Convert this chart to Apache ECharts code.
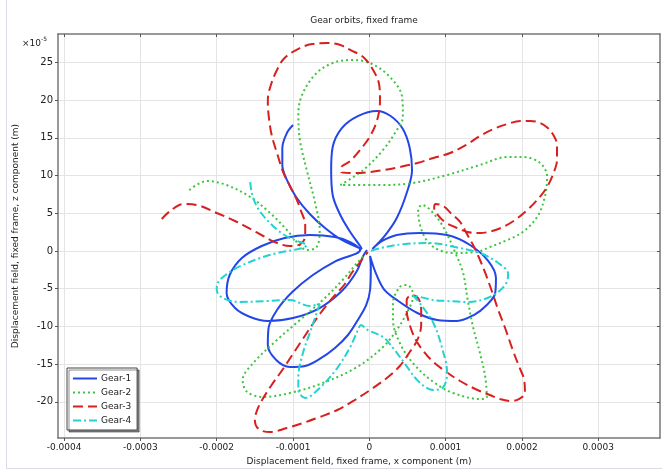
<!DOCTYPE html>
<html>
<head>
<meta charset="utf-8">
<script src="https://cdn.jsdelivr.net/npm/echarts@6/dist/echarts.min.js"></script>
<style>
html,body{margin:0;padding:0;background:#fff;}
#chart{width:662px;height:472px;}
</style>
</head>
<body>
<div id="chart"></div>
<script>
// Units: x in 1e-4 m, z in 1e-5 m
const xTicks = [-4, -3, -2, -1, 0, 1, 2, 3];
const zTicks = [-20, -15, -10, -5, 0, 5, 10, 15, 20, 25];
const seriesNames = ['Gear-1', 'Gear-2', 'Gear-3', 'Gear-4'];

const gear1 = [
[-1.00,16.71],[-1.08,15.65],[-1.14,13.66],[-1.14,11.41],[-1.08,9.42],[-0.96,7.16],[-0.78,4.91],[-0.58,3.05],[-0.36,1.46],[-0.10,0.27],
[-0.12,0.66],[-0.25,2.52],[-0.38,4.77],[-0.48,7.43],[-0.50,10.74],[-0.48,13.79],[-0.36,16.31],[-0.15,17.90],[0.10,18.57],[0.28,17.90],[0.44,16.18],[0.53,13.66],[0.56,10.74],[0.49,7.69],[0.36,4.38],[0.21,2.12],[0.04,0.27],
[0.17,1.33],[0.36,2.12],[0.66,2.39],[1.02,2.12],[1.32,0.80],[1.56,-1.33],[1.66,-3.58],[1.65,-5.57],[1.54,-7.16],[1.37,-8.49],[1.15,-9.28],[0.89,-9.15],[0.63,-8.22],[0.38,-6.63],[0.19,-5.04],[0.08,-2.79],[0.01,-0.66],
[0.02,-2.25],[0.01,-5.17],[-0.04,-7.16],[-0.15,-9.15],[-0.28,-11.14],[-0.45,-12.87],[-0.65,-14.32],[-0.84,-15.25],[-1.04,-15.39],[-1.22,-14.46],[-1.33,-12.47],[-1.32,-10.21],[-1.21,-7.83],[-1.01,-5.44],[-0.74,-3.18],[-0.44,-1.33],[-0.12,0.13],
[-0.25,1.19],[-0.45,1.86],[-0.78,2.12],[-1.11,1.72],[-1.41,0.66],[-1.67,-0.93],[-1.83,-3.18],[-1.87,-5.57],[-1.76,-7.56],[-1.56,-8.75],[-1.33,-9.28],[-1.00,-8.89],[-0.65,-7.56],[-0.36,-5.31],[-0.17,-2.79],[-0.08,-0.66],[-0.03,0.13]
];

const gear2 = [
[-0.03,-0.27],[-0.16,-1.59],[-0.35,-3.85],[-0.61,-6.50],[-0.91,-9.15],[-1.21,-11.80],[-1.52,-14.85],[-1.66,-17.11],[-1.60,-18.70],[-1.39,-19.36],[-1.04,-18.83],[-0.61,-17.51],[-0.16,-15.39],[0.18,-12.73],[0.36,-10.48],[0.49,-8.22],[0.57,-6.10],[0.56,-5.17],[0.49,-4.51],[0.40,-4.77],[0.31,-6.90],[0.31,-9.15],[0.40,-12.20],[0.57,-14.85],[0.84,-17.37],[1.10,-18.83],[1.45,-19.63],[1.54,-19.36],[1.52,-16.71],[1.45,-13.53],[1.36,-10.08],[1.29,-6.50],[1.23,-2.92],[1.14,-0.53],[0.97,3.18],[0.80,5.44],[0.69,6.10],[0.64,5.44],[0.70,2.39],[0.84,0.53],[1.10,-0.27],[1.41,-0.13],[1.58,0.53],[1.81,1.46],[2.01,2.52],[2.20,4.51],[2.30,7.16],[2.33,9.81],[2.24,11.67],[2.01,12.47],[1.81,12.47],[1.45,11.41],[1.02,10.08],[0.57,9.02],[0.14,8.75],[-0.38,8.75],[-0.08,10.74],[0.18,13.40],[0.36,16.05],[0.44,17.77],[0.43,20.42],[0.27,23.08],[0.01,24.93],[-0.25,25.33],[-0.48,24.93],[-0.69,23.61],[-0.87,20.96],[-0.93,18.30],[-0.91,14.72],[-0.82,10.74],[-0.71,6.37],[-0.65,2.79],[-0.69,0.53],[-0.82,0.13],[-0.95,1.19],[-1.08,2.79],[-1.30,5.04],[-1.56,7.16],[-1.87,8.75],[-2.13,9.28],[-2.39,7.82]
];

const gear3 = [
[-2.72,4.24],[-2.61,5.31],[-2.44,6.23],[-2.26,6.10],[-2.00,5.04],[-1.76,3.98],[-1.56,2.92],[-1.39,1.99],[-1.24,1.19],[-1.04,0.66],[-0.90,0.93],[-0.84,1.99],[-0.84,3.45],[-0.90,5.44],[-0.96,7.03],[-1.04,8.62],[-1.13,10.48],[-1.21,13.00],[-1.28,15.39],[-1.32,18.04],[-1.33,20.03],[-1.29,22.02],[-1.21,24.01],[-1.11,25.60],[-0.91,26.92],[-0.75,27.45],[-0.55,27.59],[-0.38,27.32],[-0.25,26.66],[-0.08,25.73],[0.05,24.01],[0.13,22.02],[0.14,20.03],[0.11,17.64],[0.02,15.39],[-0.12,13.40],[-0.25,11.94],[-0.37,11.01],[-0.37,10.48],[-0.17,10.35],[0.01,10.48],[0.19,10.74],[0.40,11.14],[0.63,11.67],[0.84,12.33],[1.06,13.00],[1.27,14.06],[1.45,15.25],[1.63,16.18],[1.81,16.84],[1.98,17.24],[2.11,17.24],[2.24,16.98],[2.34,16.31],[2.42,15.25],[2.46,14.06],[2.46,12.07],[2.42,10.48],[2.33,8.49],[2.20,6.76],[2.07,5.44],[1.91,4.11],[1.78,3.32],[1.61,2.65],[1.45,2.39],[1.29,2.52],[1.12,3.18],[0.99,3.85],[0.90,4.77],[0.85,5.70],[0.87,6.23],[0.97,5.97],[1.08,4.91],[1.19,3.85],[1.28,2.25],[1.36,0.80],[1.44,-0.93],[1.53,-3.18],[1.61,-5.44],[1.69,-7.83],[1.78,-10.21],[1.88,-13.13],[1.96,-15.25],[2.03,-17.11],[2.04,-18.83],[1.96,-19.63],[1.86,-19.89],[1.71,-19.63],[1.58,-19.10],[1.39,-18.30],[1.19,-17.24],[1.01,-16.05],[0.84,-14.72],[0.72,-13.40],[0.61,-11.80],[0.53,-9.81],[0.49,-7.83],[0.49,-6.50],[0.56,-5.84],[0.64,-6.23],[0.68,-7.83],[0.68,-9.81],[0.63,-11.80],[0.53,-13.40],[0.40,-15.25],[0.23,-16.84],[0.01,-18.44],[-0.21,-19.89],[-0.42,-21.09],[-0.65,-22.02],[-0.87,-22.81],[-1.08,-23.48],[-1.30,-24.01],[-1.45,-23.61],[-1.50,-22.41],[-1.47,-21.09],[-1.39,-19.50],[-1.28,-17.77],[-1.14,-15.78],[-1.01,-13.79],[-0.88,-11.80],[-0.75,-9.81],[-0.62,-7.96],[-0.46,-5.97],[-0.33,-4.51],[-0.23,-2.92],[-0.12,-1.46],[-0.02,-0.13]
];

const gear4 = [
[-1.56,9.15],[-1.54,7.69],[-1.47,5.84],[-1.34,4.11],[-1.17,2.52],[-1.04,1.72],[-0.91,1.19],[-0.82,0.80],[-0.87,0.40],[-1.00,0.13],[-1.21,-0.27],[-1.43,-0.93],[-1.66,-1.86],[-1.83,-2.79],[-1.98,-4.11],[-2.00,-5.17],[-1.92,-6.23],[-1.70,-6.76],[-1.34,-6.63],[-1.04,-6.50],[-0.78,-7.29],[-0.65,-7.03],[-0.69,-8.22],[-0.78,-10.88],[-0.87,-13.53],[-0.93,-16.71],[-0.93,-18.44],[-0.84,-19.50],[-0.65,-18.17],[-0.42,-15.52],[-0.25,-12.73],[-0.15,-10.48],[-0.11,-9.81],[-0.02,-10.48],[0.18,-11.41],[0.30,-12.73],[0.47,-14.99],[0.64,-17.24],[0.84,-18.44],[0.97,-18.04],[1.02,-16.18],[0.95,-12.73],[0.84,-9.55],[0.70,-7.43],[0.57,-5.84],[0.84,-6.50],[1.02,-6.63],[1.28,-6.76],[1.58,-6.10],[1.78,-4.51],[1.82,-3.05],[1.69,-1.59],[1.45,-0.27],[1.12,0.53],[0.80,1.06],[0.47,0.93],[0.21,0.53],[0.01,0.00]
];

const colors = ['#2346e8', '#3ec43e', '#d8201e', '#24d2d2'];
const lineTypes = ['solid', [2, 3], [10, 5], [8, 3, 2, 3]];
const gears = [gear1, gear2, gear3, gear4];

const font = 'DejaVu Sans';
const chart = echarts.init(document.getElementById('chart'), null, {renderer: 'canvas'});

const xMin = -4.08, xMax = 3.81, zMin = -24.8, zMax = 28.78;

chart.setOption({
  animation: false,
  backgroundColor: '#fff',
  title: {
    text: 'Gear orbits, fixed frame',
    left: 359, top: 11, textAlign: 'center',
    textStyle: {fontFamily: font, fontSize: 9, fontWeight: 'normal', color: '#222'}
  },
  grid: {left: 58, right: 2, top: 34, bottom: 34, containLabel: false},
  legend: {
    orient: 'vertical', left: 67, top: 368,
    data: seriesNames,
    itemWidth: 24, itemHeight: 8, itemGap: 5,
    padding: [6, 6, 5, 5],
    backgroundColor: '#fff', borderColor: '#444', borderWidth: 1,
    shadowColor: 'rgba(0,0,0,0.45)', shadowOffsetX: 2, shadowOffsetY: 2, shadowBlur: 0,
    itemStyle: {opacity: 0},
    textStyle: {fontFamily: font, fontSize: 9, color: '#222', padding: [0, 0, 0, -1]}
  },
  xAxis: [{
    type: 'value', min: xMin, max: xMax,
    name: 'Displacement field, fixed frame, x component (m)',
    nameLocation: 'middle', nameGap: 19,
    nameTextStyle: {fontFamily: font, fontSize: 9, color: '#222'},
    axisLine: {onZero: false, lineStyle: {color: '#777', width: 1.5}},
    axisTick: {customValues: xTicks, length: 3, lineStyle: {color: '#555'}},
    axisLabel: {customValues: xTicks, margin: 5, fontFamily: font, fontSize: 9, color: '#222',
      formatter: v => (Math.abs(v) < 1e-9 ? '0' : (v * 1e-4).toFixed(4))},
    splitLine: {show: true, lineStyle: {color: '#e4e4e4', width: 1}}
  }, {
    type: 'value', position: 'top', min: xMin, max: xMax,
    axisLine: {onZero: false, lineStyle: {color: '#777', width: 1.5}},
    axisTick: {customValues: xTicks, inside: true, length: 3, lineStyle: {color: '#555'}},
    axisLabel: {show: false}, splitLine: {show: false}
  }],
  yAxis: [{
    type: 'value', min: zMin, max: zMax,
    name: 'Displacement field, fixed frame, z component (m)',
    nameLocation: 'middle', nameGap: 38,
    nameTextStyle: {fontFamily: font, fontSize: 9, color: '#222'},
    axisLine: {onZero: false, lineStyle: {color: '#777', width: 1.5}},
    axisTick: {customValues: zTicks, length: 3, lineStyle: {color: '#555'}},
    axisLabel: {customValues: zTicks, margin: 5, fontFamily: font, fontSize: 10, color: '#222',
      formatter: v => String(Math.round(v))},
    splitLine: {show: true, lineStyle: {color: '#e4e4e4', width: 1}}
  }, {
    type: 'value', position: 'right', min: zMin, max: zMax,
    axisLine: {onZero: false, lineStyle: {color: '#777', width: 1.5}},
    axisTick: {customValues: zTicks, inside: true, length: 3, lineStyle: {color: '#555'}},
    axisLabel: {show: false}, splitLine: {show: false}
  }],
  graphic: [{
    type: 'text', left: 22, top: 36,
    style: {
      text: '{a|×10}{b|-5}',
      rich: {
        a: {fontFamily: font, fontSize: 9, fill: '#222', verticalAlign: 'bottom'},
        b: {fontFamily: font, fontSize: 6, fill: '#222', verticalAlign: 'top', padding: [0, 0, 6, 0]}
      }
    }
  }, {
    type: 'rect', shape: {x: 6.5, y: -2, width: 700, height: 470.5},
    style: {fill: 'none', stroke: '#dcdce6', lineWidth: 1}, silent: true
  }],
  series: gears.map((g, i) => ({
    name: seriesNames[i], type: 'line', data: g,
    xAxisIndex: 0, yAxisIndex: 0,
    symbol: 'none', showSymbol: false, smooth: 0.35,
    clip: true,
    lineStyle: {color: colors[i], width: 2, type: lineTypes[i], cap: 'butt'},
    itemStyle: {color: colors[i]}
  }))
});
</script>
</body>
</html>
